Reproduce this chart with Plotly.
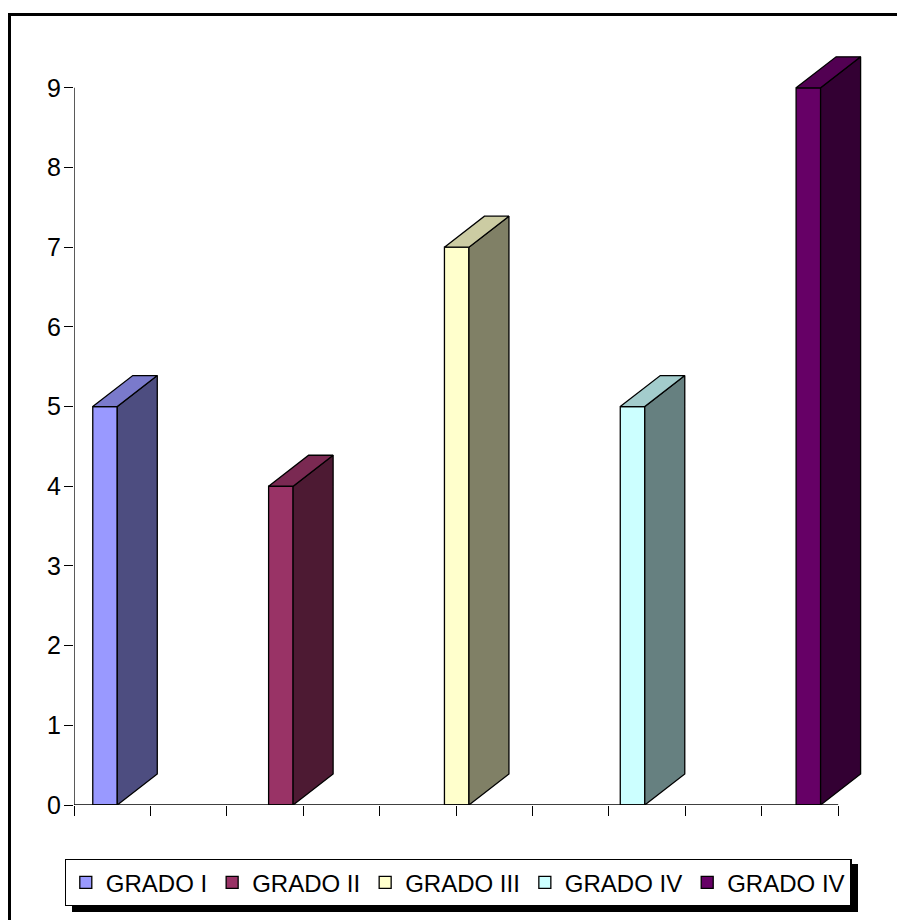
import plotly.graph_objects as go

# ---- data ----
categories = ["GRADO I", "GRADO II", "GRADO III", "GRADO IV", "GRADO IV"]
values = [5, 4, 7, 5, 9]
front_colors = ["#9999FF", "#993366", "#FFFFCC", "#CCFFFF", "#660066"]
top_colors = ["#7A7ACC", "#7A2952", "#CCCCA3", "#A3CCCC", "#520052"]
side_colors = ["#4D4D80", "#4D1A33", "#808066", "#668080", "#330033"]
y_tick_values = [0, 1, 2, 3, 4, 5, 6, 7, 8, 9]
x_tick_values = [0, 1, 2, 3, 4, 5, 6, 7, 8, 9, 10]

# ---- layout geometry ----
W, H = 897, 920
ML, MR, MT, MB = 74, 13, 48, 115
XMAX, YMAX = 10.6, 9.5
plot_w = W - ML - MR
plot_h = H - MT - MB
ppx = plot_w / XMAX
ppy = plot_h / YMAX

bar_w = 24.5 / ppx
depth_x = 40 / ppx
depth_y = 31 / ppy
first_center = 0.406
step = 2.301

FONT = "Arial, Liberation Sans, sans-serif"


def px_to_paper_x(px):
    return (px - ML) / plot_w


def px_to_paper_y(py):
    return (H - MB - py) / plot_h


fig = go.Figure()
edge = dict(color="black", width=1.3)

for i, (cat, v) in enumerate(zip(categories, values)):
    xc = first_center + step * i
    xl, xr = xc - bar_w / 2, xc + bar_w / 2
    fig.add_trace(go.Bar(
        x=[xc], y=[v], width=bar_w, name=cat,
        marker=dict(color=front_colors[i], line=edge),
        showlegend=True,
    ))
    # side face
    fig.add_trace(go.Scatter(
        x=[xr, xr, xr + depth_x, xr + depth_x, xr],
        y=[0, v, v + depth_y, depth_y, 0],
        mode="lines", fill="toself", fillcolor=side_colors[i],
        line=edge, showlegend=False, hoverinfo="skip",
    ))
    # top face
    fig.add_trace(go.Scatter(
        x=[xl, xr, xr + depth_x, xl + depth_x, xl],
        y=[v, v, v + depth_y, v + depth_y, v],
        mode="lines", fill="toself", fillcolor=top_colors[i],
        line=edge, showlegend=False, hoverinfo="skip",
    ))

shapes = [
    # axis lines
    dict(type="line", xref="x", yref="y", x0=0, x1=x_tick_values[-1], y0=0, y1=0,
         line=dict(color="black", width=1.3)),
    dict(type="line", xref="x", yref="y", x0=0, x1=0, y0=0, y1=y_tick_values[-1],
         line=dict(color="black", width=1.3)),
    # legend shadow
    dict(type="rect", xref="paper", yref="paper",
         x0=px_to_paper_x(72), x1=px_to_paper_x(858),
         y0=px_to_paper_y(912), y1=px_to_paper_y(864),
         fillcolor="black", line=dict(width=0), layer="above"),
    # outer frame
    dict(type="rect", xref="paper", yref="paper",
         x0=px_to_paper_x(9.5), x1=px_to_paper_x(905),
         y0=px_to_paper_y(930), y1=px_to_paper_y(14.5),
         line=dict(color="black", width=3), fillcolor="rgba(0,0,0,0)"),
]

fig.update_layout(
    width=W, height=H,
    margin=dict(l=ML, r=MR, t=MT, b=MB, pad=0),
    paper_bgcolor="white", plot_bgcolor="white",
    barmode="overlay",
    font=dict(family=FONT, size=24, color="black"),
    xaxis=dict(range=[0, XMAX], tickvals=x_tick_values, ticktext=[""] * len(x_tick_values),
               ticks="outside", ticklen=10, tickwidth=1.3, tickcolor="black",
               showgrid=False, zeroline=False, showline=False, fixedrange=True),
    yaxis=dict(range=[0, YMAX], tickvals=y_tick_values,
               ticks="outside", ticklen=9, tickwidth=1.3, tickcolor="black",
               showgrid=False, zeroline=False, showline=False,
               ticklabelstandoff=-2,
               tickfont=dict(family=FONT, size=25, color="black"), fixedrange=True),
    legend=dict(orientation="h", x=px_to_paper_x(458), xanchor="center",
                y=px_to_paper_y(859), yanchor="top",
                bgcolor="white", bordercolor="black", borderwidth=1.3,
                font=dict(family=FONT, size=24, color="black"),
                traceorder="normal"),
    shapes=shapes,
    showlegend=True,
)

fig.write_html("out.html")
